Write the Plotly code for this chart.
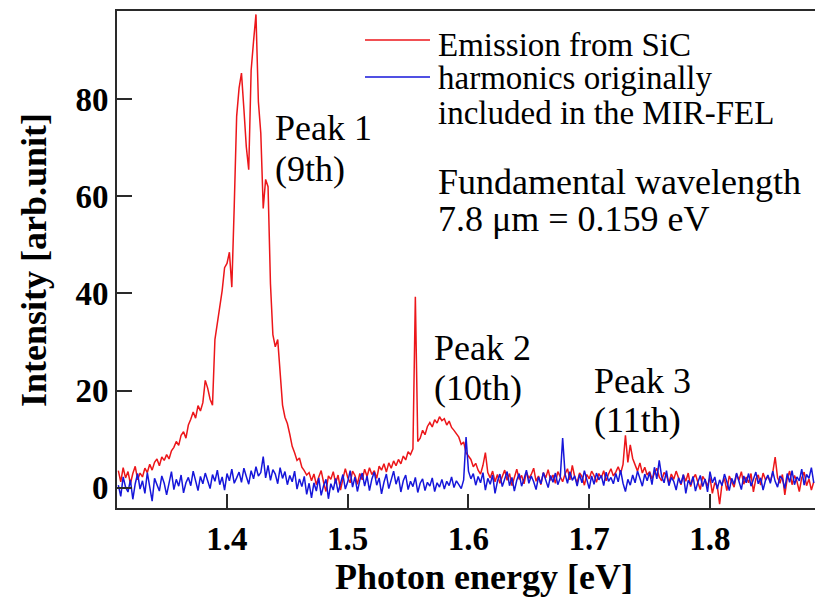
import numpy as np
import plotly.graph_objects as go

# ---------------- data ----------------
E_START = 1.310
E_STEP = 0.002
emission_sic = [
    3.5, 1.2, 4.1, 2.0, 3.3, 0.8, 2.9, 4.4, 1.6, 3.0,
    2.2, 4.0, 3.1, 4.8, 3.6, 5.2, 5.9, 4.5, 6.3, 5.6,
    6.8, 5.9, 7.6, 8.3, 9.5, 8.7, 10.8, 11.5, 10.2, 12.9,
    14.1, 15.6, 14.3, 16.9, 15.8, 17.5, 22.1, 20.5, 18.2, 17.0,
    30.5, 33.8, 37.2, 40.6, 45.3, 46.2, 48.5, 41.3, 58.0, 76.5,
    82.3, 85.4, 78.0, 70.2, 65.5, 86.0, 92.0, 97.5, 79.5, 73.0,
    57.5, 63.5, 62.0, 42.0, 31.5, 29.0, 30.5, 24.5, 17.0, 14.5,
    13.2, 11.0, 8.5, 7.2, 5.6, 6.1, 4.2, 3.5, 2.6, 3.1,
    1.4, 2.8, 0.6, 2.2, 3.5, 1.1, -0.8, 2.4, 1.7, 3.3,
    0.9, 2.6, -0.5, 1.8, 3.9, 2.1, 1.0, 3.4, 2.5, 0.7,
    2.9, 1.6, 3.8, 2.3, 4.1, 2.7, 3.5, 1.9, 4.4, 3.6,
    4.9, 3.2, 5.1, 4.0, 5.5, 4.5, 5.8, 4.9, 6.5, 5.7,
    7.4, 6.8, 8.0, 39.3, 9.5, 10.2, 11.8, 10.9, 12.6, 13.4,
    12.5, 14.0, 13.3, 14.6, 13.8, 14.2, 12.9, 13.7, 12.4, 11.8,
    11.0, 10.4, 8.9, 9.4, 7.2, 6.5, 5.8, 4.3, 5.0, 3.6,
    2.8, 4.6, 7.2, 3.1, 2.0, 3.4, 1.2, 2.7, 0.9, 2.3,
    3.6, 1.5, 2.9, 0.4, 2.2, 3.8, 1.7, 2.5, 0.8, 3.2,
    1.9, 2.7, 4.0, 1.3, 2.4, 0.6, 3.1, 2.0, 3.7, 1.5,
    2.6, 0.9, 3.3, 2.1, 1.2, 2.8, 3.9, 1.6, 4.6, 2.2,
    1.0, 3.0, 2.3, 0.5, 2.7, 1.8, 3.4, 2.5, 1.1, 2.9,
    2.0, 3.5, 1.4, 2.8, 3.9, 2.4, 3.2, 4.3, 2.9, 4.8,
    10.8, 5.2, 8.8, 6.0, 4.5, 3.4, 5.1, 3.0, 4.2, 2.6,
    3.3, 1.8, 2.9, 4.0, 2.2, 1.4, 3.1, 2.5, 0.9, 2.8,
    1.7, 3.4, 2.0, 0.6, 2.6, 1.3, 3.0, 0.2, 1.9, 2.7,
    1.1, -0.4, 2.3, 1.5, 0.3, 2.1, -1.2, 1.0, 0.4, -3.4,
    0.8, 1.9, -0.6, 2.4, 1.2, 0.1, 2.8, 1.5, 3.3, 0.7,
    2.2, 1.0, 2.9, -0.9, 1.8, 2.6, 0.5, 3.0, 1.6, 2.3,
    1.2, 3.1, 6.3, 2.0, 0.9, 2.7, -1.5, 1.9, 3.4, 0.6,
    2.5, 1.3, -0.8, 2.0, 3.2, 0.4, 1.8, -0.5, 1.2,
]
fel_harmonics = [
    0.5, -1.8, 2.2, 0.1, -0.9, 1.6, -2.4, 0.8, 2.9, -0.3,
    1.4, -1.2, 3.1, 0.2, -2.8, 1.9, 0.6, -0.7, 2.4, 0.9,
    -1.5, 1.2, 3.3, -0.4, 1.7, 0.3, 2.6, -1.1, 1.0, 2.1,
    0.4, 3.4, 1.1, -0.6, 2.3, 0.8, 3.0, 1.5, -0.2, 2.7,
    1.3, 3.6, 0.6, 2.2, -0.5, 2.9, 1.4, 3.8, 0.9, 2.0,
    3.2, 1.1, 4.0, 2.3, 0.7, 3.5, 1.8, 4.3, 2.4, 3.1,
    6.4, 2.0, 4.6, 1.5, 3.7, 2.8, 0.8, 4.1, 1.9, 3.3,
    0.6, 2.5, 1.2, 3.4, -0.3, 1.8, 0.2, 2.3, -1.4, 0.9,
    -2.1, 1.0, -0.7, 2.0, -1.6, 0.4, 1.7, -2.3, 0.8, -0.5,
    1.9, -1.0, 0.6, 2.7, -0.3, 1.2, 3.5, 0.1, 2.2, -0.8,
    1.5, 3.0, 0.3, 2.4, -0.6, 1.8, 3.2, 0.5, 2.0, -1.3,
    1.1, 2.8, -0.2, 1.6, 3.4, 0.7, 2.3, -0.9, 1.4, 2.6,
    -0.4, 1.3, 0.2, 2.1, -1.0, 0.9, 1.8, -0.6, 1.1, 0.3,
    2.0, -0.8, 1.0, 0.1, 1.7, -0.3, 1.3, 0.4, 2.2, 0.0,
    1.4, 0.6, -0.2, 1.6, 10.4, 3.4, 1.8, 2.9, 0.5, 2.3,
    1.0, 3.1, -0.5, 1.9, 0.7, 2.6, -1.2, 1.3, 2.8, 0.2,
    1.6, 3.3, 0.4, 2.1, -0.7, 1.5, 2.9, 0.3, 1.8, 3.6,
    0.9, 2.4, 1.2, -0.4, 2.2, 0.8, 3.1, 1.4, 0.0, 2.5,
    1.1, 3.0, 0.6, 2.0, 10.2, 2.8, 0.9, 3.3, 1.5, 2.4,
    0.3, 2.7, 1.0, 3.5, 1.8, -0.2, 2.4, 0.7, 3.0, 1.6,
    2.5, 0.4, 3.2, 1.3, 2.1, 0.8, 2.9, 1.2, 3.6, 0.9,
    -0.8, 1.7, 0.5, 2.6, 1.0, 3.4, 1.9, 0.3, 2.8, 1.4,
    3.1, 0.6, 4.2, 1.8, 5.6, 2.3, 1.0, 3.5, 0.4, 2.1,
    1.3, -0.5, 2.0, 0.8, 2.7, -1.2, 1.5, 0.6, 2.3, -0.7,
    1.1, 2.5, 0.2, 1.8, -0.9, 3.3, 1.0, 2.2, -0.3, 1.6,
    0.4, 2.8, 1.2, -0.6, 1.9, 0.7, 3.0, 1.4, -0.4, 2.4,
    1.0, 2.9, 0.3, 1.7, 3.2, 0.8, 2.0, -0.5, 1.5, 2.6,
    0.9, 3.4, 1.3, 0.1, 2.4, 1.8, -0.2, 2.9, 1.1, 3.5,
    0.6, 2.2, 1.4, 3.8, 0.5, 2.7, 1.9, 4.1, 1.0,
]
energy = np.round(E_START + E_STEP * np.arange(len(emission_sic)), 4)

x_ticks = [1.4, 1.5, 1.6, 1.7, 1.8]
y_ticks = [0, 20, 40, 60, 80]
series_names = ["Emission from SiC", "harmonics originally", "included in the MIR-FEL"]
peak_labels = [("Peak 1", "(9th)"), ("Peak 2", "(10th)"), ("Peak 3", "(11th)")]
info_lines = ["Fundamental wavelength", "7.8 \u03bcm = 0.159 eV"]

RED = "rgb(236,22,26)"
BLUE = "rgb(22,22,218)"
SERIF = "Liberation Serif"

# pixel helpers (plot area: x 117..815, y 11..508)
L, R, T, B = 117, 815, 11, 508
def px(x):
    return (x - L) / (R - L)
def py(y):
    return (B - y) / (B - T)

fig = go.Figure()
fig.add_trace(go.Scatter(x=energy, y=emission_sic, mode="lines",
                         line=dict(color=RED, width=1.5), name=series_names[0],
                         showlegend=False))
fig.add_trace(go.Scatter(x=energy, y=fel_harmonics, mode="lines",
                         line=dict(color=BLUE, width=1.5), name=series_names[1],
                         showlegend=False))

ANN = 36
LEG = 33
annos = []
# peak labels (data coordinates)
peak_pos = [(1.4381, 74.1, 65.6), (1.5698, 28.8, 20.5), (1.7024, 22.0, 14.0)]
for (l1, l2), (xa, y1, y2) in zip(peak_labels, peak_pos):
    annos.append(dict(x=xa, y=y1, xref="x", yref="y", text=l1, showarrow=False,
                      xanchor="left", yanchor="middle",
                      font=dict(family=SERIF, size=ANN, color="black")))
    annos.append(dict(x=xa, y=y2, xref="x", yref="y", text=l2, showarrow=False,
                      xanchor="left", yanchor="middle",
                      font=dict(family=SERIF, size=ANN, color="black")))

# legend texts
legend_rows = [(series_names[0], 45), (series_names[1], 78), (series_names[2], 113)]
for txt, yy in legend_rows:
    annos.append(dict(x=px(436), y=py(yy), xref="paper", yref="paper", text=txt,
                      showarrow=False, xanchor="left", yanchor="middle",
                      font=dict(family=SERIF, size=LEG, color="black")))
for txt, yy in zip(info_lines, [182, 219]):
    annos.append(dict(x=px(436), y=py(yy), xref="paper", yref="paper", text=txt,
                      showarrow=False, xanchor="left", yanchor="middle",
                      font=dict(family=SERIF, size=ANN, color="black")))

# axis titles
annos.append(dict(x=px(484), y=py(577), xref="paper", yref="paper",
                  text="<b>Photon energy [eV]</b>", showarrow=False,
                  xanchor="center", yanchor="middle",
                  font=dict(family=SERIF, size=36, color="black")))
annos.append(dict(x=px(34), y=py(260), xref="paper", yref="paper",
                  text="<b>Intensity [arb.unit]</b>", showarrow=False, textangle=-90,
                  xanchor="center", yanchor="middle",
                  font=dict(family=SERIF, size=36, color="black")))

shapes = [
    dict(type="line", xref="paper", yref="paper", x0=px(365), x1=px(430),
         y0=py(40), y1=py(40), line=dict(color=RED, width=1.5)),
    dict(type="line", xref="paper", yref="paper", x0=px(365), x1=px(430),
         y0=py(77), y1=py(77), line=dict(color=BLUE, width=1.5)),
]

axis_col = "#2a2a2a"
fig.update_layout(
    width=815, height=600,
    margin=dict(l=L, r=815 - R, t=T, b=600 - B),
    paper_bgcolor="white", plot_bgcolor="white",
    showlegend=False,
    annotations=annos, shapes=shapes,
    xaxis=dict(range=[1.3089, 1.887], tickvals=x_ticks,
               ticktext=[f"{v:.1f}" for v in x_ticks],
               ticks="inside", ticklen=14, tickwidth=1.5, tickcolor=axis_col,
               showline=True, linecolor=axis_col, linewidth=2, mirror=True,
               showgrid=False, zeroline=False,
               tickfont=dict(family=SERIF, size=33, color="black", weight="bold")),
    yaxis=dict(range=[-4.2, 98.2], tickvals=y_ticks,
               ticks="inside", ticklen=15, tickwidth=1.5, tickcolor=axis_col,
               showline=True, linecolor=axis_col, linewidth=2, mirror=False,
               showgrid=False, zeroline=False,
               tickfont=dict(family=SERIF, size=33, color="black", weight="bold")),
)

fig.write_html("out.html", config={"displayModeBar": False},
               post_script="document.body.style.margin='0';document.body.style.overflow='hidden';")
